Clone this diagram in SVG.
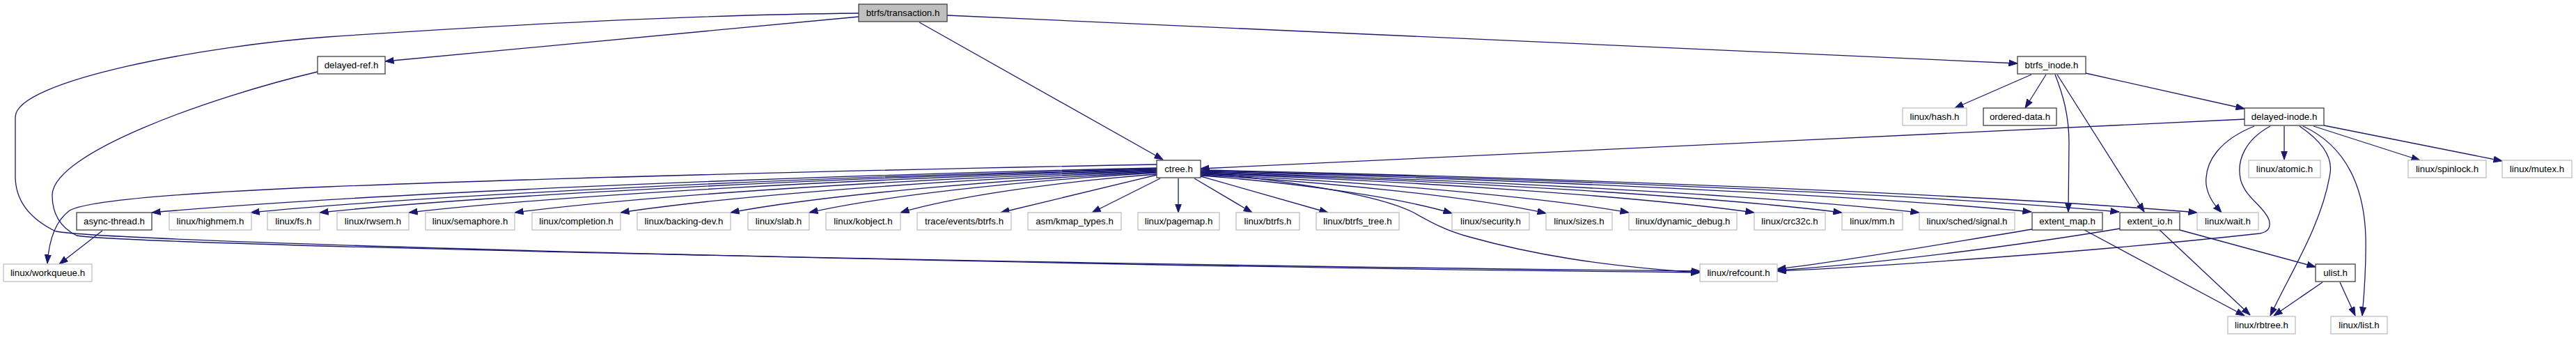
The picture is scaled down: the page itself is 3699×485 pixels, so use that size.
<svg xmlns="http://www.w3.org/2000/svg" width="3699" height="485" viewBox="0 0 3699 485">
<style>
.n rect{fill:#ffffff;stroke:#404040;stroke-width:1.3}
.g rect{fill:#ffffff;stroke:#bfbfbf;stroke-width:1.3}
.m rect{fill:#bfbfbf;stroke:#404040;stroke-width:1.3}
text{font-family:"Liberation Sans",Arial,sans-serif;font-size:13.3px;fill:#000;text-anchor:middle}
#edges path{fill:none;stroke:#191970;stroke-width:1.3;marker-end:url(#ah)}
</style>
<defs>
<marker id="ah" markerWidth="13" markerHeight="10" refX="12.5" refY="5" orient="auto" markerUnits="userSpaceOnUse">
<path d="M0,0.5 L12.5,5 L0,9.5 z" fill="#191970" stroke="#191970" stroke-width="1"/>
</marker>
</defs>
<rect width="3699" height="485" fill="#ffffff"/>
<g id="edges">
<path d="M1233,24 L553,88"/>
<path d="M1233,19 C1000,21 720,36 470,53 C300,65 22,115 22,168 L22,253 C22,290 45,315 80,332 C180,350 1600,383 2441,391"/>
<path d="M456,103 C300,140 75,220 75,280 C75,310 90,328 110,338 C200,352 1600,381 2441,389"/>
<path d="M1320,32 L1670,229"/>
<path d="M1360,22 L2897,91"/>
<path d="M2917,107 L2807,155"/>
<path d="M2938,107 L2908,155"/>
<path d="M2951,107 C2962,135 2971,165 2971,205 L2970,304"/>
<path d="M2954,107 L3079,304"/>
<path d="M2995,105 L3223,156"/>
<path d="M3224,171 L1724,242"/>
<path d="M3280,181 L3280,229"/>
<path d="M3322,181 L3475,230"/>
<path d="M3337,180 L3593,231"/>
<path d="M3237,181 C3190,200 3165,230 3168,265 C3171,285 3182,296 3190,305"/>
<path d="M3260,181 C3225,200 3210,230 3218,260 C3226,285 3250,295 3258,315 C3262,328 3255,333 3245,335 C3000,362 2700,382 2552,389"/>
<path d="M3302,181 C3330,200 3350,222 3346,248 C3335,320 3290,390 3260,453"/>
<path d="M3307,181 C3370,210 3395,270 3397,340 C3398,390 3394,430 3392,453"/>
<path d="M2918,329 C2800,348 2650,375 2552,386"/>
<path d="M3044,328 C2900,352 2700,378 2552,388"/>
<path d="M2993,330 L3223,453"/>
<path d="M3101,330 L3231,452"/>
<path d="M3130,330 L3325,383"/>
<path d="M3335,405 L3265,453"/>
<path d="M3360,405 L3382,453"/>
<path d="M147,331 L85,379"/>
<path d="M1661,236 C1300,243 800,255 470,268 C300,275 130,285 100,302 C78,318 70,350 68,378"/>
<path d="M1724,247 C1900,265 1990,285 2030,305 C2060,322 2080,332 2110,340 C2200,365 2300,382 2441,391"/>
<path d="M1661,241 C1083.8,253.8 506.6,279.4 218,305"/>
<path d="M1661,242 C1140.6,254.6 620.2,279.8 360,305"/>
<path d="M1661,243 C1180.2,255.4 699.4,280.2 459,305"/>
<path d="M1661,244 C1231.4,256.2 801.8,280.6 587,305"/>
<path d="M1661,245 C1292.2,257 923.4,281 739,305"/>
<path d="M1661,246 C1353,257.8 1045,281.4 891,305"/>
<path d="M1661,247 C1416.2,258.6 1171.4,281.8 1049,305"/>
<path d="M1661,248 C1461.4,259.4 1261.8,282.2 1162,305"/>
<path d="M1661,250 C1513.8,261 1366.6,283 1293,305"/>
<path d="M1661,251 L1437,305"/>
<path d="M1666,256 L1568,305"/>
<path d="M1692,256 L1692,305"/>
<path d="M1715,256 L1798,305"/>
<path d="M1724,253 L1907,305"/>
<path d="M1724,252 C1868.4,262.8 2012.8,284.4 2085,306"/>
<path d="M1724,251 C1922.4,262 2120.8,284 2220,306"/>
<path d="M1724,250 C1970,261 2216,283 2339,305"/>
<path d="M1724,249 C2042,260.2 2360,282.6 2519,305"/>
<path d="M1724,248 C2092.4,259.4 2460.8,282.2 2645,305"/>
<path d="M1724,247 C2136.8,258.6 2549.6,281.8 2756,305"/>
<path d="M1724,246 C2201.2,257.6 2678.4,280.8 2917,304"/>
<path d="M1724,245 C2251.6,256.8 2779.2,280.4 3043,304"/>
<path d="M1724,244 C2296.4,256.2 2868.8,280.6 3155,305"/>
</g>
<g id="n_transaction" class="m"><rect x="1233" y="6" width="127" height="25"/><text x="1296.5" y="23">btrfs/transaction.h</text></g>
<g id="n_delayed_ref" class="n"><rect x="456" y="81" width="97" height="25"/><text x="504.5" y="98">delayed-ref.h</text></g>
<g id="n_btrfs_inode" class="n"><rect x="2897" y="81" width="98" height="25"/><text x="2946" y="98">btrfs_inode.h</text></g>
<g id="n_hash" class="g"><rect x="2732" y="155" width="92" height="25"/><text x="2778" y="172">linux/hash.h</text></g>
<g id="n_ordered" class="n"><rect x="2848" y="155" width="105" height="25"/><text x="2900.5" y="172">ordered-data.h</text></g>
<g id="n_delayed_inode" class="n"><rect x="3223" y="155" width="114" height="25"/><text x="3280" y="172">delayed-inode.h</text></g>
<g id="n_ctree" class="n"><rect x="1661" y="230" width="63" height="25"/><text x="1692.5" y="247">ctree.h</text></g>
<g id="n_atomic" class="g"><rect x="3229" y="230" width="103" height="25"/><text x="3280.5" y="247">linux/atomic.h</text></g>
<g id="n_spinlock" class="g"><rect x="3458" y="230" width="112" height="25"/><text x="3514" y="247">linux/spinlock.h</text></g>
<g id="n_mutex" class="g"><rect x="3593" y="230" width="100" height="25"/><text x="3643" y="247">linux/mutex.h</text></g>
<g id="n_async" class="n"><rect x="110" y="305" width="108" height="25"/><text x="164" y="322">async-thread.h</text></g>
<g id="n_highmem" class="g"><rect x="243" y="305" width="118" height="25"/><text x="302" y="322">linux/highmem.h</text></g>
<g id="n_fs" class="g"><rect x="384" y="305" width="75" height="25"/><text x="421.5" y="322">linux/fs.h</text></g>
<g id="n_rwsem" class="g"><rect x="484" y="305" width="103" height="25"/><text x="535.5" y="322">linux/rwsem.h</text></g>
<g id="n_semaphore" class="g"><rect x="611" y="305" width="128" height="25"/><text x="675" y="322">linux/semaphore.h</text></g>
<g id="n_completion" class="g"><rect x="764" y="305" width="127" height="25"/><text x="827.5" y="322">linux/completion.h</text></g>
<g id="n_backing" class="g"><rect x="915" y="305" width="134" height="25"/><text x="982" y="322">linux/backing-dev.h</text></g>
<g id="n_slab" class="g"><rect x="1074" y="305" width="88" height="25"/><text x="1118" y="322">linux/slab.h</text></g>
<g id="n_kobject" class="g"><rect x="1186" y="305" width="107" height="25"/><text x="1239.5" y="322">linux/kobject.h</text></g>
<g id="n_trace" class="g"><rect x="1317" y="305" width="135" height="25"/><text x="1384.5" y="322">trace/events/btrfs.h</text></g>
<g id="n_kmap" class="g"><rect x="1476" y="305" width="134" height="25"/><text x="1543" y="322">asm/kmap_types.h</text></g>
<g id="n_pagemap" class="g"><rect x="1634" y="305" width="117" height="25"/><text x="1692.5" y="322">linux/pagemap.h</text></g>
<g id="n_btrfs" class="g"><rect x="1775" y="305" width="91" height="25"/><text x="1820.5" y="322">linux/btrfs.h</text></g>
<g id="n_btrfs_tree" class="g"><rect x="1890" y="305" width="119" height="25"/><text x="1949.5" y="322">linux/btrfs_tree.h</text></g>
<g id="n_security" class="g"><rect x="2085" y="305" width="111" height="25"/><text x="2140.5" y="322">linux/security.h</text></g>
<g id="n_sizes" class="g"><rect x="2220" y="305" width="95" height="25"/><text x="2267.5" y="322">linux/sizes.h</text></g>
<g id="n_dyndbg" class="g"><rect x="2339" y="305" width="155" height="25"/><text x="2416.5" y="322">linux/dynamic_debug.h</text></g>
<g id="n_crc32c" class="g"><rect x="2519" y="305" width="102" height="25"/><text x="2570" y="322">linux/crc32c.h</text></g>
<g id="n_mm" class="g"><rect x="2645" y="305" width="87" height="25"/><text x="2688.5" y="322">linux/mm.h</text></g>
<g id="n_signal" class="g"><rect x="2756" y="305" width="137" height="25"/><text x="2824.5" y="322">linux/sched/signal.h</text></g>
<g id="n_extent_map" class="n"><rect x="2918" y="305" width="101" height="25"/><text x="2968.5" y="322">extent_map.h</text></g>
<g id="n_extent_io" class="n"><rect x="3044" y="305" width="86" height="25"/><text x="3087" y="322">extent_io.h</text></g>
<g id="n_wait" class="g"><rect x="3155" y="305" width="88" height="25"/><text x="3199" y="322">linux/wait.h</text></g>
<g id="n_workqueue" class="g"><rect x="5" y="379" width="127" height="25"/><text x="68.5" y="396">linux/workqueue.h</text></g>
<g id="n_refcount" class="g"><rect x="2441" y="379" width="111" height="25"/><text x="2496.5" y="396">linux/refcount.h</text></g>
<g id="n_ulist" class="n"><rect x="3325" y="379" width="57" height="25"/><text x="3353.5" y="396">ulist.h</text></g>
<g id="n_rbtree" class="g"><rect x="3199" y="454" width="97" height="25"/><text x="3247.5" y="471">linux/rbtree.h</text></g>
<g id="n_list" class="g"><rect x="3347" y="454" width="81" height="25"/><text x="3387.5" y="471">linux/list.h</text></g>
</svg>
